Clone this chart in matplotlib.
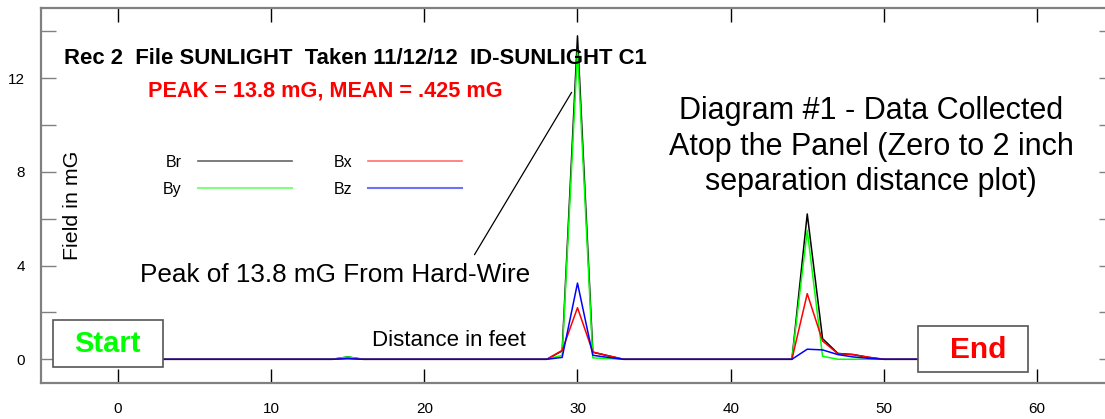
import matplotlib.pyplot as plt
from matplotlib.lines import Line2D
from matplotlib.patches import Rectangle
import numpy as np

plt.rcParams['font.family'] = ['Liberation Sans', 'DejaVu Sans']

# distancia en pies
dist = list(range(0, 57))
# valores de campo (mG), casi todo cero
Br = [0.0] * 57
By = [0.0] * 57
Bx = [0.0] * 57
Bz = [0.0] * 57
# pequeno bulto cerca de 15 pies
Br[15] = 0.1; By[15] = 0.1; Bx[15] = 0.03; Bz[15] = 0.03
# pico del cable (hard-wire) en 30 pies
Br[29] = 0.36; By[29] = 0.17; Bx[29] = 0.38; Bz[29] = 0.08
Br[30] = 13.8; By[30] = 13.2; Bx[30] = 2.2; Bz[30] = 3.25
Br[31] = 0.3; By[31] = 0.06; Bx[31] = 0.31; Bz[31] = 0.17
Br[32] = 0.15; By[32] = 0.03; Bx[32] = 0.15; Bz[32] = 0.08
# segundo pico en 45 pies
Br[45] = 6.2; By[45] = 5.5; Bx[45] = 2.8; Bz[45] = 0.43
Br[46] = 0.88; By[46] = 0.13; Bx[46] = 0.78; Bz[46] = 0.4
Br[47] = 0.25; By[47] = 0.0; Bx[47] = 0.24; Bz[47] = 0.2
Br[48] = 0.2; By[48] = 0.0; Bx[48] = 0.2; Bz[48] = 0.1
Br[49] = 0.08; By[49] = 0.0; Bx[49] = 0.09; Bz[49] = 0.04

fig = plt.figure(figsize=(11.05, 4.19), dpi=100)
ax = fig.add_axes([0.03747, 0.0866, 0.9703, 0.895])

ax.plot(dist, Br, color='black', lw=1.1)
ax.plot(dist, By, color='#00ff00', lw=1.1)
ax.plot(dist, Bx, color='red', lw=1.1)
ax.plot(dist, Bz, color='blue', lw=1.1)

ax.set_xlim(-5, 65)
ax.set_ylim(-1, 15)

# ejes
for s in ax.spines.values():
    s.set_color('#808080')
    s.set_linewidth(1.6)
ax.set_xticks(range(0, 61, 10))
ax.tick_params(axis='x', direction='in', length=10, width=1, color='black',
               top=True, labelsize=11, pad=14)
ax.set_yticks(range(0, 15, 2))
ax.set_yticklabels(['0', '', '4', '', '8', '', '12', ''])
ax.tick_params(axis='y', direction='in', length=11, width=1, color='#808080',
               right=True, labelsize=11, pad=12)

ax.text(-3.0, 6.58, 'Field in mG', rotation=90, fontsize=15.4, ha='center', va='center')

# leyenda
handles = [Line2D([], [], color='#666666', lw=1.2), Line2D([], [], color='#80ff80', lw=1.5),
           Line2D([], [], color='#ff7070', lw=1.2), Line2D([], [], color='#7070ff', lw=1.5)]
ax.legend(handles, ['Br', 'By', 'Bx', 'Bz'], ncol=2, markerfirst=False, frameon=False,
          fontsize=11.5, handlelength=5.9, handletextpad=1.0, columnspacing=2.6,
          labelspacing=0.75, loc='upper left',
          bbox_to_anchor=(163 / 1105, 1 - 155 / 419), bbox_transform=fig.transFigure,
          borderpad=0, borderaxespad=0)

ax.text(-3.53, 12.82, 'Rec 2  File SUNLIGHT  Taken 11/12/12  ID-SUNLIGHT C1',
        fontsize=15.9, fontweight='bold', ha='left', va='center')
ax.text(1.96, 11.45, 'PEAK = 13.8 mG, MEAN = .425 mG', fontsize=15.6, fontweight='bold',
        color='red', ha='left', va='center')
ax.text(49.16, 9.07, 'Diagram #1 - Data Collected\nAtop the Panel (Zero to 2 inch\nseparation distance plot)',
        fontsize=22, ha='center', va='center', linespacing=1.25)
ax.text(14.17, 3.6, 'Peak of 13.8 mG From Hard-Wire', fontsize=18.8, ha='center', va='center')
ax.annotate('', xy=(29.71, 11.49), xytext=(23.18, 4.36),
            arrowprops=dict(arrowstyle='-', color='black', lw=0.9))
ax.text(21.6, 0.82, 'Distance in feet', fontsize=16, ha='center', va='center')

# cajas de inicio y fin
ax.add_patch(Rectangle((-4.24, -0.34), 7.18, 2.01, facecolor='white', edgecolor='#555555',
                       lw=1.2, zorder=4))
ax.text(-0.72, 0.66, 'Start', fontsize=21, fontweight='bold', color='#00ff00',
        ha='center', va='center', zorder=5)
ax.add_patch(Rectangle((52.2, -0.55), 7.2, 1.98, facecolor='white', edgecolor='#555555',
                       lw=1.2, zorder=4))
ax.text(56.15, 0.4, 'End', fontsize=21.5, fontweight='bold', color='red',
        ha='center', va='center', zorder=5)

fig.savefig('out.png', dpi=100)
